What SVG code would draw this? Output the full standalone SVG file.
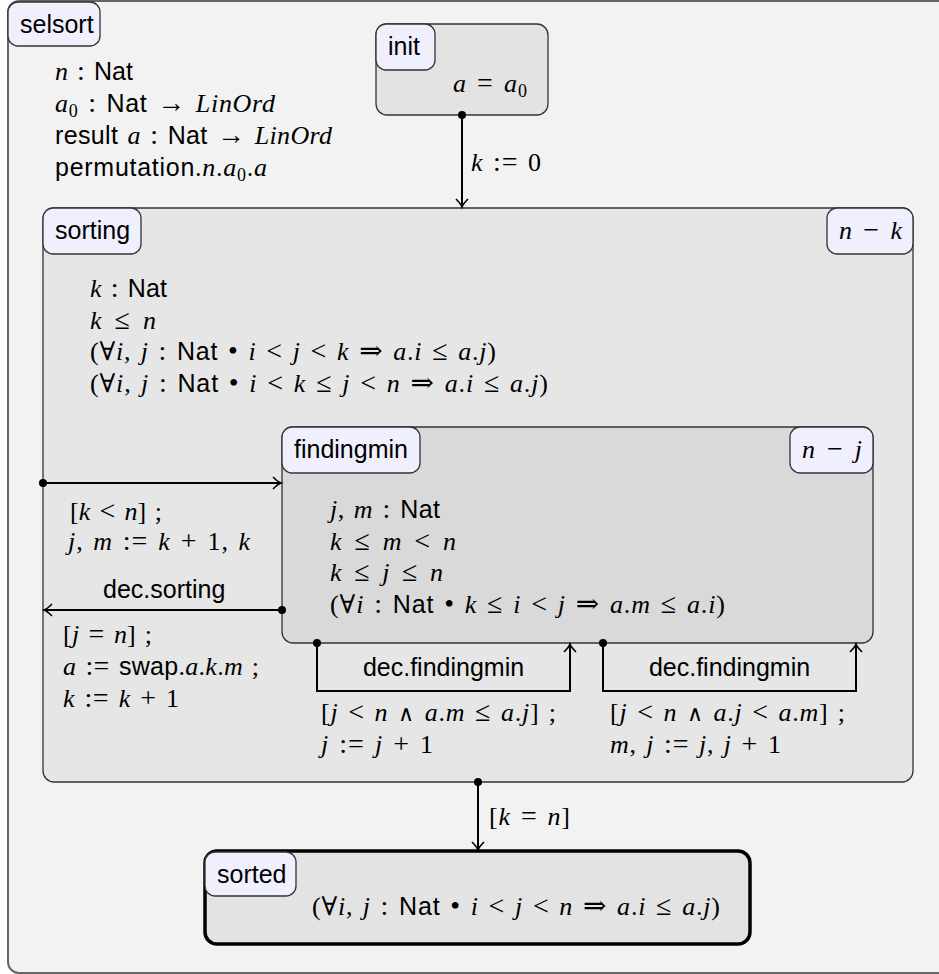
<svg xmlns="http://www.w3.org/2000/svg" width="939" height="974" viewBox="0 0 939 974">
<defs>
<style>
.t{font-family:"Liberation Serif","DejaVu Serif",serif;font-size:26px;fill:#000;word-spacing:2px}
.m{font-style:italic}
.r{font-style:normal}
.o{font-size:28px}
.w{font-family:"DejaVu Sans ExtraLight","DejaVu Sans",sans-serif;font-size:22px}
.s{font-family:"Liberation Sans",Arial,sans-serif;font-size:25px}
.sub{font-size:18px}
.lt{font-family:"Liberation Sans",Arial,sans-serif;font-size:25px;fill:#000}
.lb{fill:#efeffd;stroke:#333;stroke-width:1.3}
.st{stroke:#333;stroke-width:1.3}
.c{fill:none;stroke:#000;stroke-width:2}
.d{fill:#000}
</style>
<marker id="ah" markerUnits="userSpaceOnUse" markerWidth="20" markerHeight="20" viewBox="-10 -10 20 20" refX="0" refY="0" orient="auto">
<path d="M-8,-6 Q-3,-1 0,0 Q-3,1 -8,6" fill="none" stroke="#000" stroke-width="1.6"/>
</marker>
</defs>

<g id="selsort">
<rect x="8" y="1" width="950" height="972" rx="11" fill="#f2f2f2" stroke="#666" stroke-width="2"/>
<rect class="lb" x="8" y="2" width="92" height="44" rx="10"/>
<text class="lt" x="20" y="33">selsort</text>
<text class="t" x="55" y="80" textLength="78" lengthAdjust="spacing"><tspan class="m">n</tspan><tspan class="r o"> : </tspan><tspan class="s">Nat</tspan></text>
<text class="t" x="55" y="112" textLength="220" lengthAdjust="spacing"><tspan class="m">a</tspan><tspan class="r sub" dy="5">0</tspan><tspan class="r o" dy="-5"> : </tspan><tspan class="s">Nat</tspan><tspan class="r o"> → </tspan><tspan class="m">LinOrd</tspan></text>
<text class="t" x="55" y="144" textLength="277" lengthAdjust="spacing"><tspan class="s">result </tspan><tspan class="m">a</tspan><tspan class="r o"> : </tspan><tspan class="s">Nat</tspan><tspan class="r o"> → </tspan><tspan class="m">LinOrd</tspan></text>
<text class="t" x="55" y="176" textLength="212" lengthAdjust="spacing"><tspan class="s">permutation</tspan><tspan class="r">.</tspan><tspan class="m">n</tspan><tspan class="r">.</tspan><tspan class="m">a</tspan><tspan class="r sub" dy="5">0</tspan><tspan class="r" dy="-5">.</tspan><tspan class="m">a</tspan></text>
</g>

<g id="init">
<rect class="st" x="376" y="24" width="172" height="91" rx="11" fill="#e3e3e3"/>
<rect class="lb" x="376" y="24" width="59" height="46" rx="10"/>
<text class="lt" x="388" y="55">init</text>
<text class="t" x="453" y="92" textLength="74" lengthAdjust="spacing"><tspan class="m">a</tspan><tspan class="r o"> = </tspan><tspan class="m">a</tspan><tspan class="r sub" dy="5">0</tspan></text>
</g>

<g id="sorting">
<rect class="st" x="43" y="208" width="870" height="574" rx="11" fill="#e6e6e6"/>
<rect class="lb" x="43" y="208" width="98" height="46" rx="10"/>
<text class="lt" x="55" y="239">sorting</text>
<rect class="lb" x="827" y="208" width="86" height="46" rx="10"/>
<text class="t" x="839" y="239" textLength="63" lengthAdjust="spacing"><tspan class="m">n</tspan><tspan class="r o"> − </tspan><tspan class="m">k</tspan></text>
<text class="t" x="90" y="297" textLength="77" lengthAdjust="spacing"><tspan class="m">k</tspan><tspan class="r o"> : </tspan><tspan class="s">Nat</tspan></text>
<text class="t" x="90" y="329" textLength="66" lengthAdjust="spacing"><tspan class="m">k</tspan><tspan class="r o"> ≤ </tspan><tspan class="m">n</tspan></text>
<text class="t" x="90" y="360" textLength="406" lengthAdjust="spacing"><tspan class="r">(∀</tspan><tspan class="m">i</tspan><tspan class="r">, </tspan><tspan class="m">j</tspan><tspan class="r o"> : </tspan><tspan class="s">Nat</tspan><tspan class="r o"> • </tspan><tspan class="m">i</tspan><tspan class="r o"> &lt; </tspan><tspan class="m">j</tspan><tspan class="r o"> &lt; </tspan><tspan class="m">k</tspan><tspan class="r o"> ⇒ </tspan><tspan class="m">a</tspan><tspan class="r">.</tspan><tspan class="m">i</tspan><tspan class="r o"> ≤ </tspan><tspan class="m">a</tspan><tspan class="r">.</tspan><tspan class="m">j</tspan><tspan class="r">)</tspan></text>
<text class="t" x="90" y="392" textLength="458" lengthAdjust="spacing"><tspan class="r">(∀</tspan><tspan class="m">i</tspan><tspan class="r">, </tspan><tspan class="m">j</tspan><tspan class="r o"> : </tspan><tspan class="s">Nat</tspan><tspan class="r o"> • </tspan><tspan class="m">i</tspan><tspan class="r o"> &lt; </tspan><tspan class="m">k</tspan><tspan class="r o"> ≤ </tspan><tspan class="m">j</tspan><tspan class="r o"> &lt; </tspan><tspan class="m">n</tspan><tspan class="r o"> ⇒ </tspan><tspan class="m">a</tspan><tspan class="r">.</tspan><tspan class="m">i</tspan><tspan class="r o"> ≤ </tspan><tspan class="m">a</tspan><tspan class="r">.</tspan><tspan class="m">j</tspan><tspan class="r">)</tspan></text>
</g>

<g id="findingmin">
<rect class="st" x="282" y="427" width="591" height="216" rx="11" fill="#d9d9d9"/>
<rect class="lb" x="282" y="427" width="138" height="46" rx="10"/>
<text class="lt" x="294" y="458">findingmin</text>
<rect class="lb" x="790" y="427" width="83" height="46" rx="10"/>
<text class="t" x="802" y="458" textLength="60" lengthAdjust="spacing"><tspan class="m">n</tspan><tspan class="r o"> − </tspan><tspan class="m">j</tspan></text>
<text class="t" x="330" y="518" textLength="110" lengthAdjust="spacing"><tspan class="m">j</tspan><tspan class="r">, </tspan><tspan class="m">m</tspan><tspan class="r o"> : </tspan><tspan class="s">Nat</tspan></text>
<text class="t" x="330" y="550" textLength="126" lengthAdjust="spacing"><tspan class="m">k</tspan><tspan class="r o"> ≤ </tspan><tspan class="m">m</tspan><tspan class="r o"> &lt; </tspan><tspan class="m">n</tspan></text>
<text class="t" x="330" y="581" textLength="113" lengthAdjust="spacing"><tspan class="m">k</tspan><tspan class="r o"> ≤ </tspan><tspan class="m">j</tspan><tspan class="r o"> ≤ </tspan><tspan class="m">n</tspan></text>
<text class="t" x="330" y="613" textLength="395" lengthAdjust="spacing"><tspan class="r">(∀</tspan><tspan class="m">i</tspan><tspan class="r o"> : </tspan><tspan class="s">Nat</tspan><tspan class="r o"> • </tspan><tspan class="m">k</tspan><tspan class="r o"> ≤ </tspan><tspan class="m">i</tspan><tspan class="r o"> &lt; </tspan><tspan class="m">j</tspan><tspan class="r o"> ⇒ </tspan><tspan class="m">a</tspan><tspan class="r">.</tspan><tspan class="m">m</tspan><tspan class="r o"> ≤ </tspan><tspan class="m">a</tspan><tspan class="r">.</tspan><tspan class="m">i</tspan><tspan class="r">)</tspan></text>
</g>

<g id="sorted">
<rect x="205" y="851" width="545" height="93" rx="12" fill="#e3e3e3" stroke="#000" stroke-width="3.5"/>
<rect class="lb" x="205" y="852" width="91" height="44" rx="10"/>
<text class="lt" x="217" y="883">sorted</text>
<text class="t" x="312" y="915" textLength="408" lengthAdjust="spacing"><tspan class="r">(∀</tspan><tspan class="m">i</tspan><tspan class="r">, </tspan><tspan class="m">j</tspan><tspan class="r o"> : </tspan><tspan class="s">Nat</tspan><tspan class="r o"> • </tspan><tspan class="m">i</tspan><tspan class="r o"> &lt; </tspan><tspan class="m">j</tspan><tspan class="r o"> &lt; </tspan><tspan class="m">n</tspan><tspan class="r o"> ⇒ </tspan><tspan class="m">a</tspan><tspan class="r">.</tspan><tspan class="m">i</tspan><tspan class="r o"> ≤ </tspan><tspan class="m">a</tspan><tspan class="r">.</tspan><tspan class="m">j</tspan><tspan class="r">)</tspan></text>
</g>

<g id="connectors">
<path class="c" d="M462,115 V207" marker-end="url(#ah)"/>
<circle class="d" cx="462" cy="115" r="4"/>
<text class="t" x="471" y="171" textLength="70" lengthAdjust="spacing"><tspan class="m">k</tspan><tspan class="r o"> := </tspan><tspan class="r">0</tspan></text>

<path class="c" d="M43,483 H281" marker-end="url(#ah)"/>
<circle class="d" cx="43" cy="483" r="4"/>
<text class="t" x="70" y="520" textLength="92" lengthAdjust="spacing"><tspan class="r">[</tspan><tspan class="m">k</tspan><tspan class="r o"> &lt; </tspan><tspan class="m">n</tspan><tspan class="r">] ;</tspan></text>
<text class="t" x="68" y="550" textLength="182" lengthAdjust="spacing"><tspan class="m">j</tspan><tspan class="r">, </tspan><tspan class="m">m</tspan><tspan class="r o"> := </tspan><tspan class="m">k</tspan><tspan class="r o"> + </tspan><tspan class="r">1, </tspan><tspan class="m">k</tspan></text>

<path class="c" d="M282,610 H44" marker-end="url(#ah)"/>
<circle class="d" cx="282" cy="610" r="4"/>
<text class="lt" x="103" y="598">dec.sorting</text>
<text class="t" x="63" y="643" textLength="89" lengthAdjust="spacing"><tspan class="r">[</tspan><tspan class="m">j</tspan><tspan class="r o"> = </tspan><tspan class="m">n</tspan><tspan class="r">] ;</tspan></text>
<text class="t" x="63" y="675" textLength="196" lengthAdjust="spacing"><tspan class="m">a</tspan><tspan class="r o"> := </tspan><tspan class="s">swap</tspan><tspan class="r">.</tspan><tspan class="m">a</tspan><tspan class="r">.</tspan><tspan class="m">k</tspan><tspan class="r">.</tspan><tspan class="m">m</tspan><tspan class="r"> ;</tspan></text>
<text class="t" x="63" y="707" textLength="116" lengthAdjust="spacing"><tspan class="m">k</tspan><tspan class="r o"> := </tspan><tspan class="m">k</tspan><tspan class="r o"> + </tspan><tspan class="r">1</tspan></text>

<path class="c" d="M317,643 V691 H570 V644" marker-end="url(#ah)"/>
<circle class="d" cx="317" cy="643" r="4"/>
<text class="lt" x="443.5" y="676" text-anchor="middle">dec.findingmin</text>
<text class="t" x="321" y="721" textLength="235" lengthAdjust="spacing"><tspan class="r">[</tspan><tspan class="m">j</tspan><tspan class="r o"> &lt; </tspan><tspan class="m">n</tspan><tspan class="r o"> </tspan><tspan class="w">∧</tspan><tspan class="r o"> </tspan><tspan class="m">a</tspan><tspan class="r">.</tspan><tspan class="m">m</tspan><tspan class="r o"> ≤ </tspan><tspan class="m">a</tspan><tspan class="r">.</tspan><tspan class="m">j</tspan><tspan class="r">] ;</tspan></text>
<text class="t" x="321" y="753" textLength="112" lengthAdjust="spacing"><tspan class="m">j</tspan><tspan class="r o"> := </tspan><tspan class="m">j</tspan><tspan class="r o"> + </tspan><tspan class="r">1</tspan></text>

<path class="c" d="M603,643 V691 H856 V644" marker-end="url(#ah)"/>
<circle class="d" cx="603" cy="643" r="4"/>
<text class="lt" x="729.5" y="676" text-anchor="middle">dec.findingmin</text>
<text class="t" x="610" y="721" textLength="235" lengthAdjust="spacing"><tspan class="r">[</tspan><tspan class="m">j</tspan><tspan class="r o"> &lt; </tspan><tspan class="m">n</tspan><tspan class="r o"> </tspan><tspan class="w">∧</tspan><tspan class="r o"> </tspan><tspan class="m">a</tspan><tspan class="r">.</tspan><tspan class="m">j</tspan><tspan class="r o"> &lt; </tspan><tspan class="m">a</tspan><tspan class="r">.</tspan><tspan class="m">m</tspan><tspan class="r">] ;</tspan></text>
<text class="t" x="610" y="753" textLength="171" lengthAdjust="spacing"><tspan class="m">m</tspan><tspan class="r">, </tspan><tspan class="m">j</tspan><tspan class="r o"> := </tspan><tspan class="m">j</tspan><tspan class="r">, </tspan><tspan class="m">j</tspan><tspan class="r o"> + </tspan><tspan class="r">1</tspan></text>

<path class="c" d="M478,782 V850" marker-end="url(#ah)"/>
<circle class="d" cx="478" cy="782" r="4"/>
<text class="t" x="489" y="825" textLength="81" lengthAdjust="spacing"><tspan class="r">[</tspan><tspan class="m">k</tspan><tspan class="r o"> = </tspan><tspan class="m">n</tspan><tspan class="r">]</tspan></text>
</g>
</svg>
